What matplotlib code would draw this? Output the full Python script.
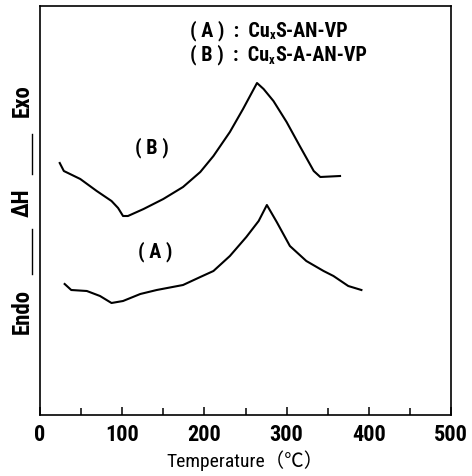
import matplotlib
matplotlib.use('Agg')
import matplotlib.pyplot as plt
from matplotlib.ticker import MultipleLocator

plt.rcParams['font.family'] = ['Roboto Condensed', 'Noto Sans CJK JP', 'DejaVu Sans']
plt.rcParams['font.weight'] = 'bold'

# curve (B): CuxS-A-AN-VP
temp_b = [24, 29, 49, 69, 87, 95, 101, 107, 126, 150, 174, 195, 211, 231, 247, 264,
          272, 284, 300, 316, 333, 341, 365]
dh_b = [252, 244, 236, 224, 214, 207, 199, 199, 206, 216, 228, 243, 259, 283, 306, 332,
        326, 314, 293, 269, 244, 238, 239]

# curve (A): CuxS-AN-VP
temp_a = [30, 38, 57, 73, 87, 101, 122, 142, 174, 195, 211, 231, 251, 266, 276,
          288, 304, 324, 345, 357, 375, 391]
dh_a = [131, 125, 124, 119, 112, 114, 121, 125, 130, 138, 144, 159, 178, 194, 210,
        193, 169, 154, 144, 139, 129, 125]

xticks = [0, 100, 200, 300, 400, 500]

fig = plt.figure(figsize=(4.72, 4.77), dpi=100)
ax = fig.add_axes([40 / 472, 1 - 416 / 477, 411 / 472, 409 / 477])

ax.plot(temp_b, dh_b, color='black', lw=1.5)
ax.plot(temp_a, dh_a, color='black', lw=1.5)

ax.set_xlim(0, 500)
ax.set_ylim(0, 409)
ax.set_xticks(xticks)
ax.xaxis.set_minor_locator(MultipleLocator(50))
ax.tick_params(axis='x', which='both', direction='in', length=6, width=1.1,
               labelsize=16, pad=6)
ax.tick_params(axis='x', which='minor', length=5)
ax.set_yticks([])
for s in ax.spines.values():
    s.set_linewidth(1.2)

ax.set_xlabel('Temperature（℃）', fontsize=14, labelpad=3)

ax.text(136, 268, '( B )', fontsize=14.5, ha='center', va='center')
ax.text(140, 164, '( A )', fontsize=14.5, ha='center', va='center')


def header(y, prefix, rest):
    t1 = ax.text(0.365, y, prefix + 'Cu', transform=ax.transAxes,
                 fontsize=14.5, ha='left', va='bottom')
    t2 = ax.annotate('x', xy=(1, 0), xycoords=t1, xytext=(0, -1),
                     textcoords='offset points', fontsize=9, ha='left', va='bottom')
    ax.annotate(rest, xy=(1, 0), xycoords=(t2, t1), fontsize=14.5,
                ha='left', va='bottom')


header(0.917, '( A )  :  ', 'S-AN-VP')
header(0.857, '( B )  :  ', 'S-A-AN-VP')

# left side labels
fig.text(22 / 472, 1 - 101 / 477, 'Exo', rotation=90, fontsize=16.5,
         ha='center', va='center')
fig.text(22 / 472, 1 - 203 / 477, 'ΔH', rotation=90, fontsize=16.5,
         ha='center', va='center')
fig.text(22 / 472, 1 - 311 / 477, 'Endo', rotation=90, fontsize=16.5,
         ha='center', va='center')
fig.add_artist(plt.Line2D([32 / 472, 32 / 472], [1 - 135 / 477, 1 - 175 / 477],
                          color='black', lw=1.0))
fig.add_artist(plt.Line2D([32 / 472, 32 / 472], [1 - 230 / 477, 1 - 275 / 477],
                          color='black', lw=1.0))

fig.savefig('out.png', dpi=100)
